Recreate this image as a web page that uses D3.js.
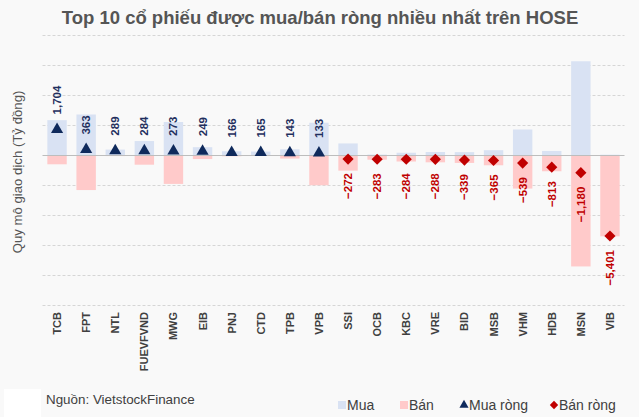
<!DOCTYPE html>
<html><head><meta charset="utf-8">
<script src="https://cdn.jsdelivr.net/npm/d3@7"></script>
<style>
html,body{margin:0;padding:0;background:#f9f9f9;}
svg{display:block;font-family:"Liberation Sans",Arial,sans-serif;}
</style></head>
<body>
<svg id="c" width="639" height="417"></svg>
<script>
const categories = ["TCB","FPT","NTL","FUEVFVND","MWG","EIB","PNJ","CTD","TPB","VPB","SSI","OCB","KBC","VRE","BID","MSB","VHM","HDB","MSN","VIB"];
const buyValues  = [2324,2700,360,930,2200,520,250,230,380,2150,770,30,150,200,190,320,1700,270,6250,20];
const sellValues = [620,2337,71,646,1927,271,84,65,237,2017,1042,313,434,488,529,685,2239,1083,7430,5421];
const netValues  = [1704,363,289,284,273,249,166,165,143,133,-272,-283,-284,-288,-339,-365,-539,-813,-1180,-5401];
const yTicks = [-10000,-8000,-6000,-4000,-2000,0,2000,4000,6000,8000];
const legendItems = [
  {label:"Mua", type:"buy"},
  {label:"Bán", type:"sell"},
  {label:"Mua ròng", type:"netbuy"},
  {label:"Bán ròng", type:"netsell"}
];

const C = {buy:"#d9e2f3", sell:"#ffcaca", navy:"#0f2a5c", red:"#c00000", grid:"#d6d6d6", zero:"#bdbdbd", text:"#404040"};
const svg = d3.select("#c");
svg.append("rect").attr("width",639).attr("height",417).attr("fill","#f9f9f9");
svg.append("rect").attr("x",4).attr("y",389).attr("width",37).attr("height",28).attr("fill","#ffffff");

const x = d3.scaleBand().domain(categories).range([42.5,624.5]).paddingInner(0.333).paddingOuter(0.1665);
const y = d3.scaleLinear().domain([-10000,8000]).range([305,35]);

// title
svg.append("text").attr("x",320).attr("y",24).attr("text-anchor","middle")
  .attr("font-size",18.5).attr("font-weight","bold").attr("fill","#555555")
  .text("Top 10 cổ phiếu được mua/bán ròng nhiều nhất trên HOSE");

// grid
const g = svg.append("g");
g.selectAll("line.grid").data(yTicks.filter(d=>d!==0)).join("line")
  .attr("x1",42.5).attr("x2",624.5).attr("y1",d=>y(d)+0.5).attr("y2",d=>y(d)+0.5)
  .attr("stroke",C.grid).attr("stroke-width",1).attr("stroke-dasharray","3,2");

// y axis title
svg.append("text").attr("transform",`translate(22,172) rotate(-90)`).attr("text-anchor","middle")
  .attr("font-size",13.2).attr("fill","#555555").text("Quy mô giao dịch (Tỷ đồng)");

// bars
const data = categories.map((c,i)=>({c, buy:buyValues[i], sell:sellValues[i], net:netValues[i]}));
g.selectAll("rect.buy").data(data).join("rect")
  .attr("x",d=>x(d.c)).attr("width",x.bandwidth())
  .attr("y",d=>y(d.buy)).attr("height",d=>y(0)-y(d.buy)).attr("fill",C.buy);
g.selectAll("rect.sell").data(data).join("rect")
  .attr("x",d=>x(d.c)).attr("width",x.bandwidth())
  .attr("y",y(0)).attr("height",d=>y(-d.sell)-y(0)).attr("fill",C.sell);

// zero line
g.append("line").attr("x1",42.5).attr("x2",624.5).attr("y1",y(0)+0.5).attr("y2",y(0)+0.5)
  .attr("stroke",C.zero).attr("stroke-width",1);

// markers
const tri = d3.symbol().type(d3.symbolTriangle).size(64);
const dia = "M0,-5.6L5.6,0L0,5.6L-5.6,0Z";
g.selectAll("path.m").data(data).join("path")
  .attr("transform",d=>`translate(${x(d.c)+x.bandwidth()/2},${y(d.net)})`)
  .attr("d",d=>d.net>=0?tri():dia)
  .attr("fill",d=>d.net>=0?C.navy:C.red);

// value labels
const fmt = d3.format(",");
g.selectAll("text.v").data(data).join("text")
  .attr("transform",d=>{
    const cx = x(d.c)+x.bandwidth()/2+4;
    const cy = d.net>=0 ? y(d.net)-15 : y(d.net)+14;
    return `translate(${cx},${cy}) rotate(-90)`;
  })
  .attr("text-anchor",d=>d.net>=0?"start":"end")
  .attr("font-size",11.5).attr("font-weight","bold")
  .attr("fill",d=>d.net>=0?"#1f2f5e":C.red)
  .text(d=>fmt(d.net));

// x labels
g.selectAll("text.xl").data(categories).join("text")
  .attr("transform",d=>`translate(${x(d)+x.bandwidth()/2+4},312) rotate(-90)`)
  .attr("text-anchor","end").attr("font-size",11).attr("font-weight","bold")
  .attr("fill",C.text).text(d=>d);

// source
svg.append("text").attr("x",46).attr("y",404).attr("font-size",13.4).attr("fill","#404040")
  .text("Nguồn: VietstockFinance");

// legend
const lx = [342,404,464,554];
const lg = svg.append("g");
legendItems.forEach((it,i)=>{
  const gx = lx[i], gy = 405;
  if(it.type==="buy"||it.type==="sell"){
    lg.append("rect").attr("x",gx-4).attr("y",gy-4).attr("width",8).attr("height",8)
      .attr("fill",it.type==="buy"?C.buy:C.sell);
  } else if(it.type==="netbuy"){
    lg.append("path").attr("transform",`translate(${gx},${gy})`)
      .attr("d",d3.symbol().type(d3.symbolTriangle).size(36)()).attr("fill",C.navy);
  } else {
    lg.append("path").attr("transform",`translate(${gx},${gy})`)
      .attr("d","M0,-4.2L4.2,0L0,4.2L-4.2,0Z").attr("fill",C.red);
  }
  lg.append("text").attr("x",gx+5).attr("y",gy+5).attr("font-size",14).attr("fill","#404040").text(it.label);
});
</script>
</body></html>
